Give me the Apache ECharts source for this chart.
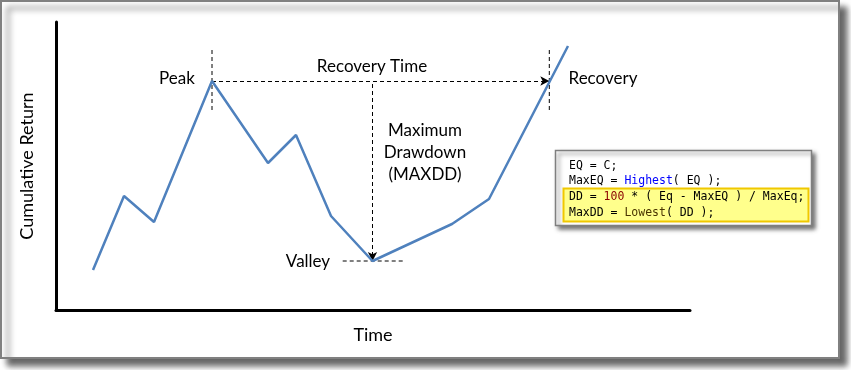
<!DOCTYPE html>
<html>
<head>
<meta charset="utf-8">
<script src="https://cdn.jsdelivr.net/npm/echarts@6/dist/echarts.min.js"></script>
<style>html,body{margin:0;padding:0;background:#fff;}#c{width:851px;height:370px;}</style>
</head>
<body>
<div id="c"></div>
<script>
// Time positions (arbitrary units) and cumulative return values
var timeVals   = [37, 68, 98, 156, 212, 240, 275, 316.5, 396, 433, 512];
var returnVals = [40, 114, 88, 229, 147, 175, 94, 49, 86, 111, 264];
// annotation anchors
var peakT = 156, peakR = 229;
var valleyT = 316.5, valleyR = 49;
var recoveryT = 493.3;
var guideTop = 260, guideBottom = 197;
var valleyLineFrom = 286.7, valleyLineTo = 346.7;
var codeLines = [
  "EQ = C;",
  "MaxEQ = {b|Highest}( EQ );",
  "DD = {r|100} * ( Eq - MaxEQ ) / MaxEq;",
  "MaxDD = {o|Lowest}( DD );"
];

var FONT = 'Lato, "Open Sans", sans-serif';
var MONO = '"DejaVu Sans Mono", monospace';
var chart = echarts.init(document.getElementById('c'), null, {renderer: 'canvas'});

function dashed(data) {
  return {type: 'line', data: data, symbol: 'none', silent: true, z: 3,
    lineStyle: {color: '#000', width: 1, type: [4, 3]}};
}

var rich = {
  b: {fill: '#0000ff', font: '11.5px ' + MONO},
  r: {fill: '#8b0000', font: '11.5px ' + MONO},
  o: {fill: '#4a3500', font: '11.5px ' + MONO}
};
var codeY = [165.7, 180.7, 197.3, 213.3];
var codeTexts = codeLines.map(function (t, i) {
  return {type: 'text', x: 569, y: codeY[i], z: 20,
    style: {text: t, rich: rich, fill: '#000', font: '11.5px ' + MONO, verticalAlign: 'middle', align: 'left'}};
});

function label(txt, x, y, align) {
  return {type: 'text', x: x, y: y, z: 20,
    style: {text: txt, fill: '#000', font: '17px ' + FONT, align: align || 'center', verticalAlign: 'middle', lineHeight: 22}};
}

chart.setOption({
  animation: false,
  backgroundColor: 'transparent',
  grid: {left: 56, top: 22, right: 161, bottom: 60},
  xAxis: {type: 'value', min: 0, max: 634, name: 'Time', nameLocation: 'middle', nameGap: 16,
    nameTextStyle: {fontFamily: FONT, fontSize: 18, color: '#000'},
    axisLine: {show: true, lineStyle: {color: '#000', width: 3}}, axisTick: {show: false},
    axisLabel: {show: false}, splitLine: {show: false}},
  yAxis: {type: 'value', min: 0, max: 288, name: 'Cumulative Return', nameLocation: 'middle', nameGap: 20,
    nameTextStyle: {fontFamily: FONT, fontSize: 18, color: '#000'},
    axisLine: {show: true, lineStyle: {color: '#000', width: 3}}, axisTick: {show: false},
    axisLabel: {show: false}, splitLine: {show: false}},
  series: [
    {type: 'line', data: timeVals.map(function (t, i) { return [t, returnVals[i]]; }),
      symbol: 'none', z: 5, lineStyle: {color: '#4f81bd', width: 2.5}},
    dashed([[peakT, guideTop], [peakT, guideBottom]]),
    dashed([[recoveryT, guideTop], [recoveryT, guideBottom]]),
    dashed([[valleyLineFrom, valleyR], [valleyLineTo, valleyR]]),
    {type: 'line', data: [], silent: true,
      markLine: {silent: true, symbol: ['none', 'arrow'], symbolSize: [7, 9], animation: false,
        label: {show: false},
        lineStyle: {color: '#000', width: 1, type: [4, 3]},
        data: [
          [{coord: [peakT, peakR]}, {coord: [recoveryT, peakR]}],
          [{coord: [valleyT, peakR - 3]}, {coord: [valleyT, valleyR]}]
        ]}}
  ],
  graphic: [
    {type: 'rect', z: -10, silent: true, shape: {x: 1, y: 1, width: 838, height: 357},
      style: {fill: '#fff', stroke: '#808080', lineWidth: 2,
        shadowColor: 'rgba(0,0,0,0.6)', shadowBlur: 6, shadowOffsetX: 7, shadowOffsetY: 7}},
    label('Peak', 177, 79),
    label('Recovery Time', 372, 67),
    label('Recovery', 603, 79),
    label('Maximum\nDrawdown\n(MAXDD)', 425, 153),
    label('Valley', 308, 262),
    {type: 'rect', z: 15, silent: true, shape: {x: 555.5, y: 150.5, width: 256, height: 75},
      style: {fill: '#fff', stroke: '#7f7f7f', lineWidth: 1.5,
        shadowColor: 'rgba(0,0,0,0.5)', shadowBlur: 4, shadowOffsetX: 3, shadowOffsetY: 3}},
    {type: 'rect', z: 16, silent: true, shape: {x: 563.5, y: 188.5, width: 245, height: 33},
      style: {fill: '#ffff8c', stroke: '#f0c800', lineWidth: 2}}
  ].concat(codeTexts)
});
</script>
</body>
</html>
